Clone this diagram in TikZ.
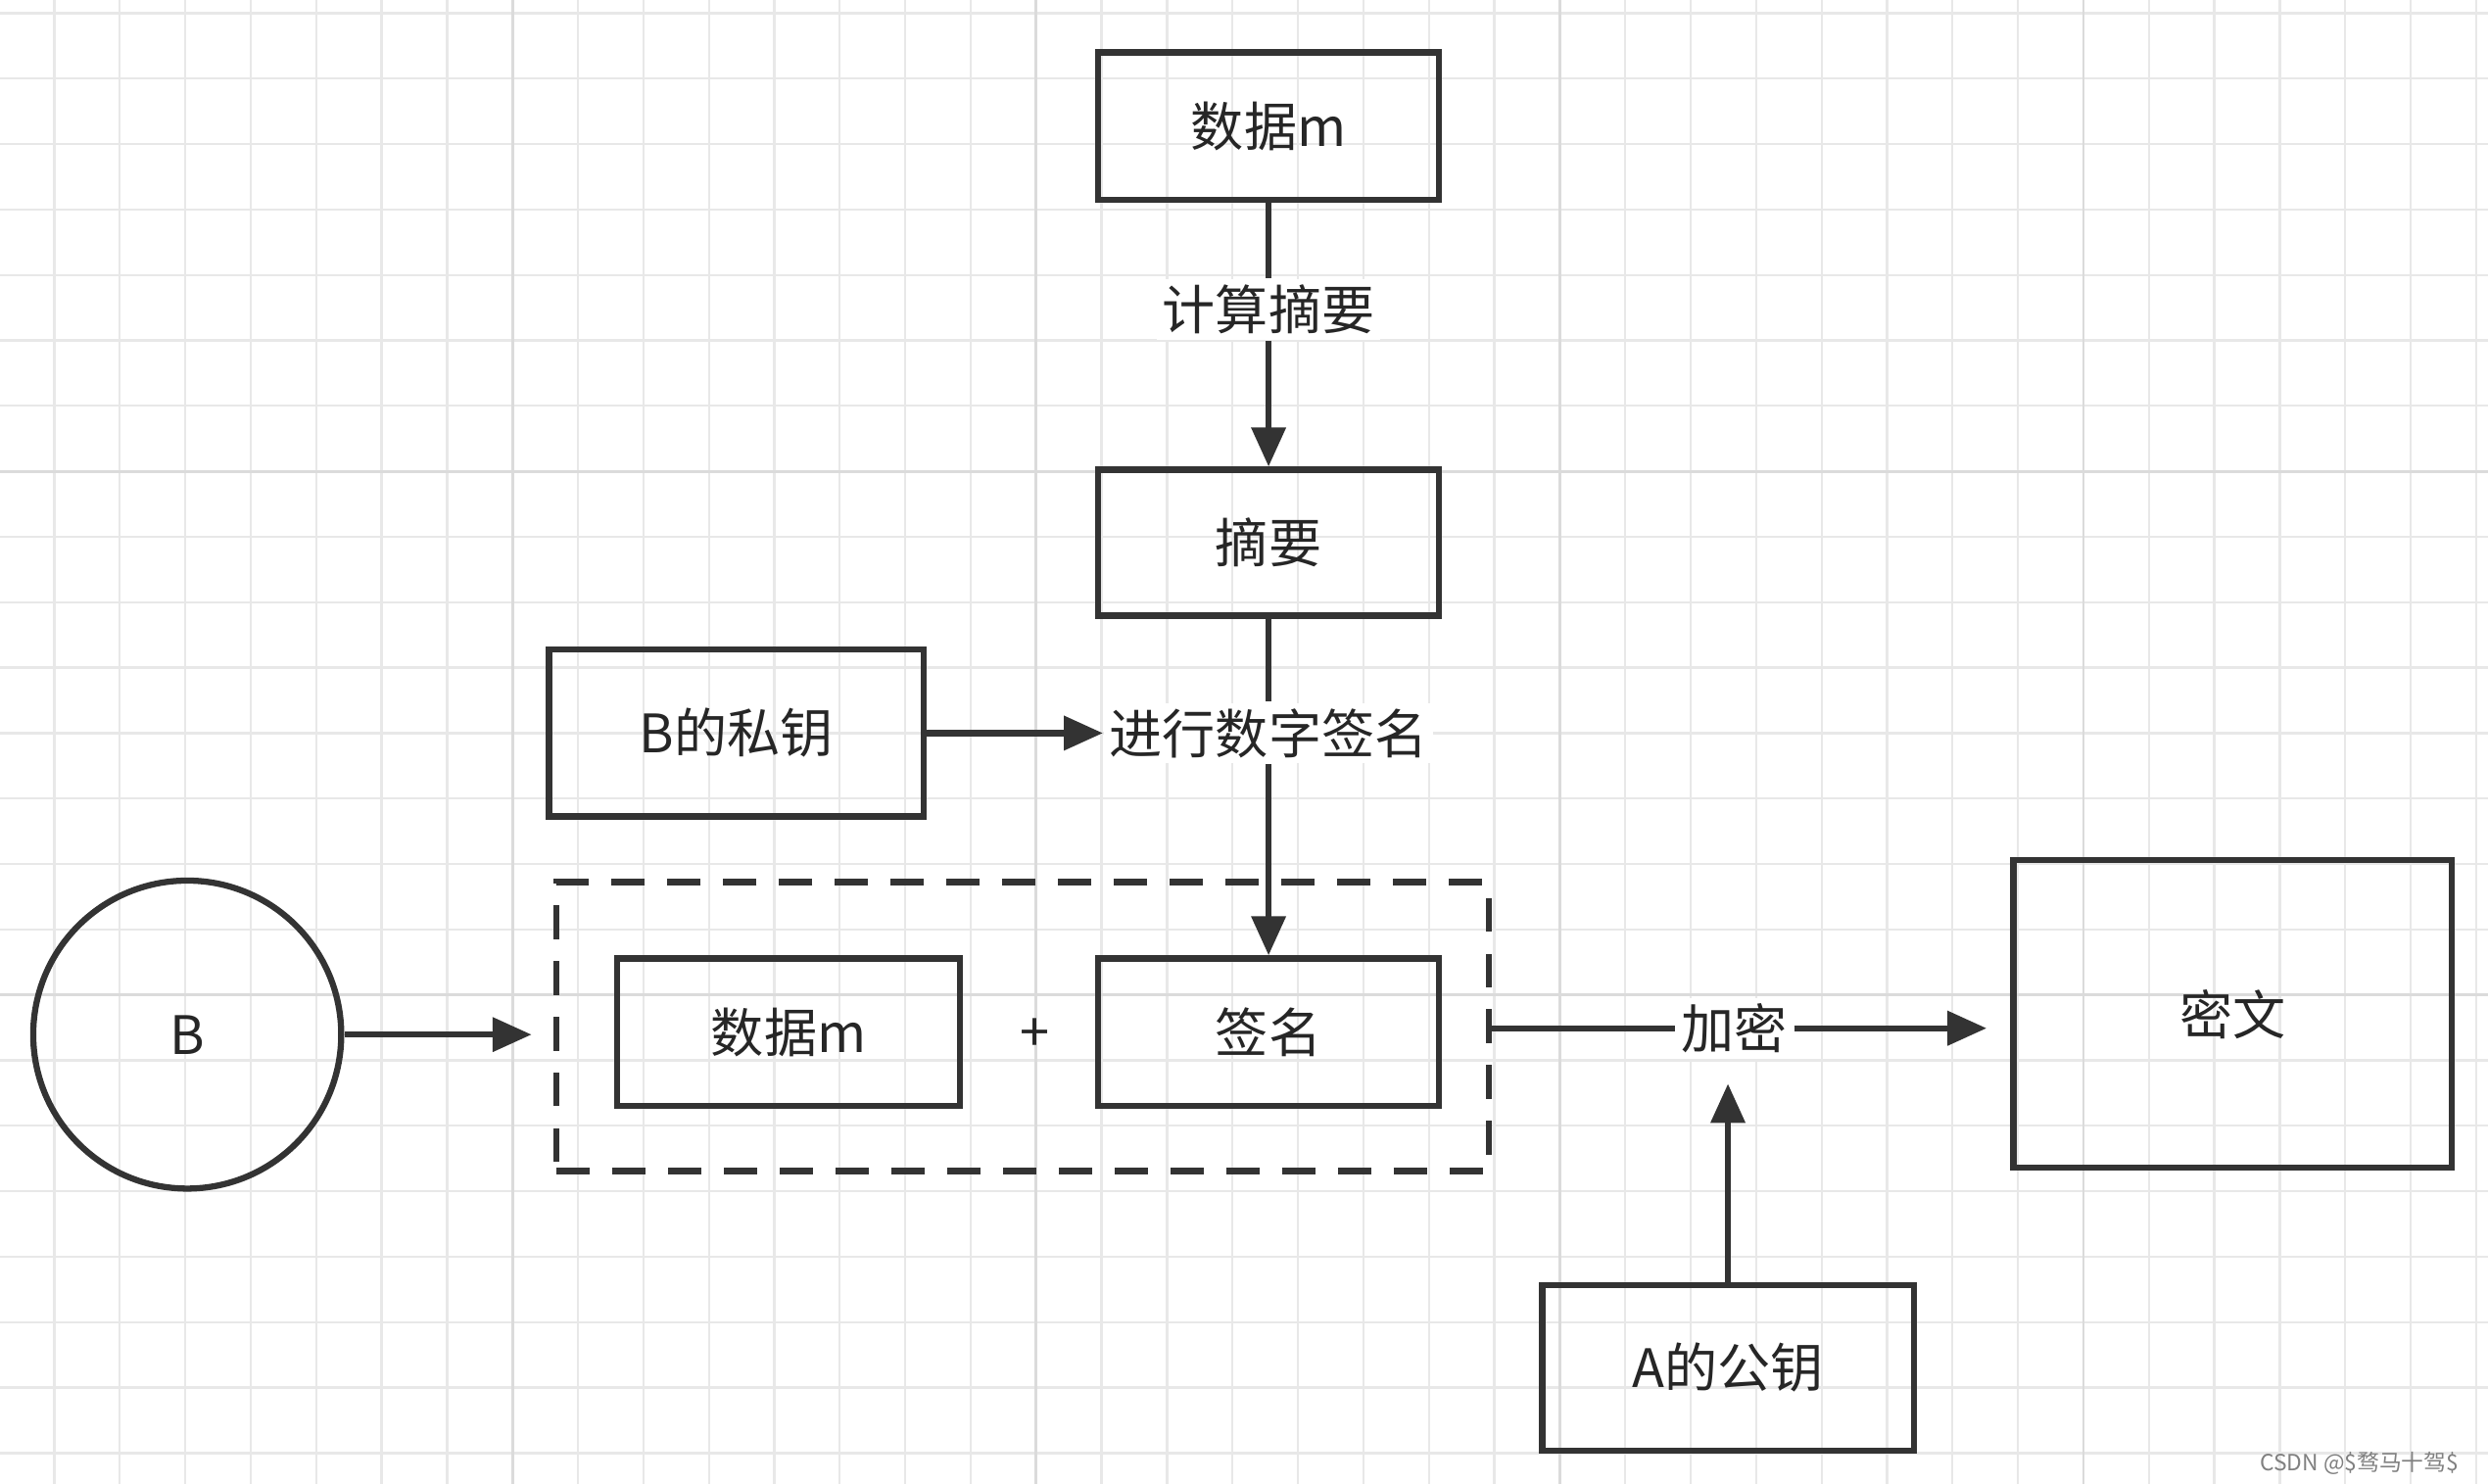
\documentclass[tikz,border=0pt]{standalone}
\usepackage{fontspec}
\setmainfont{Noto Sans CJK SC}
\usetikzlibrary{arrows.meta}
\begin{document}
\begin{tikzpicture}[x=0.01cm,y=-0.01cm,
  box/.style={draw=black!80,line width=1.1pt,minimum width=#1,inner sep=0pt,font=\fontsize{9.5}{10}\selectfont,text=black!85},
  lab/.style={fill=white,inner sep=1pt,font=\fontsize{9.5}{10}\selectfont,text=black!85},
  arr/.style={draw=black!80,line width=1.1pt,-{Triangle[length=7pt,width=6pt]}},
  ln/.style={draw=black!80,line width=1.1pt}]
\useasboundingbox (0,0) rectangle (1568,935);
\fill[white] (0,0) rectangle (1568,935);
\foreach \i in {0,...,38} {\draw[black!9,line width=0.4pt] (34.25+41.25*\i,0) -- (34.25+41.25*\i,935);}
\foreach \i in {0,...,22} {\draw[black!9,line width=0.4pt] (0,8.25+41.25*\i) -- (1568,8.25+41.25*\i);}
\foreach \i in {0,...,4} {\draw[black!14,line width=0.5pt] (323+330*\i-330,0) -- (323+330*\i-330,935);}
\foreach \i in {0,...,3} {\draw[black!14,line width=0.5pt] (0,297+330*\i-330) -- (1568,297+330*\i-330);}
\node[box=2.15cm,minimum height=0.93cm] (m1) at (799.5,79.5) {数据m};
\node[lab] (cal) at (799.5,195) {计算摘要};
\node[box=2.15cm,minimum height=0.92cm] (dg) at (799.5,342) {摘要};
\node[box=2.36cm,minimum height=1.05cm] (bk) at (464,462) {B的私钥};
\node[lab] (sig) at (799.5,462) {进行数字签名};
\node[draw=black!80,line width=1.1pt,dash pattern=on 6pt off 4pt,minimum width=5.87cm,minimum height=1.82cm,inner sep=0pt] (db) at (644.5,647) {};
\node[box=2.16cm,minimum height=0.93cm] (m2) at (497,650.5) {数据m};
\node[box=2.15cm,minimum height=0.93cm] (sg) at (799.5,650.5) {签名};
\node[font=\fontsize{9.5}{10}\selectfont,text=black!85] (pl) at (652,652) {+};
\node[draw=black!80,line width=1.1pt,circle,minimum size=1.94cm,inner sep=0pt,font=\fontsize{9.5}{10}\selectfont,text=black!85] (b) at (118,652) {B};
\node[box=2.76cm,minimum height=1.94cm] (ct) at (1407,639) {密文};
\node[box=2.34cm,minimum height=1.04cm] (ak) at (1089,862) {A的公钥};
\coordinate (c1) at (335,652);
\coordinate (c2) at (1252,648);
\draw[ln] (m1) -- (cal);
\draw[arr] (cal) -- (dg);
\draw[arr] (bk) -- (sig);
\draw[ln] (dg) -- (sig);
\draw[arr] (sig) -- (sg);
\draw[arr] (b) -- (c1);
\node[lab] (enc) at (1093,648) {加密};
\draw[ln] (938,648) -- (enc);
\draw[arr] (enc) -- (c2);
\draw[arr] (ak) -- (1089,683);
\node[anchor=east,font=\fontsize{4}{5}\selectfont,text=black!50] at (1562,922) {CSDN @\$骛马十驾\$};
\end{tikzpicture}
\end{document}
